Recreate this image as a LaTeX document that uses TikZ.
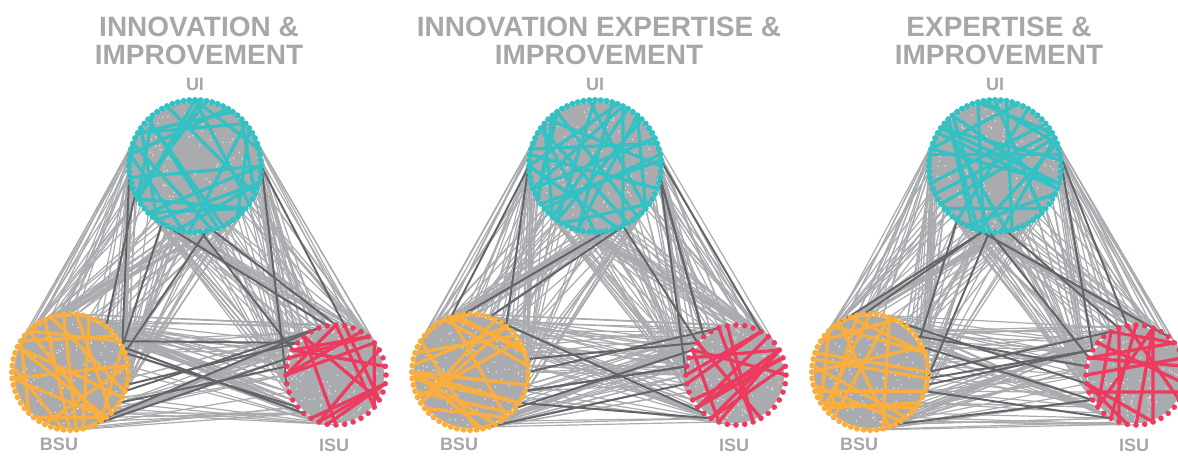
\documentclass[tikz,border=0pt]{standalone}
\usepackage{fontspec}
\setmainfont{Liberation Sans}
\usetikzlibrary{calc}
\definecolor{uiteal}{HTML}{33C1C4}
\definecolor{bsuorange}{HTML}{FAAE3E}
\definecolor{isured}{HTML}{EE3A5E}
\definecolor{linkgray}{HTML}{A9ABAE}
\definecolor{linkdark}{HTML}{636467}
\definecolor{labelgray}{HTML}{A5A7AA}
\tikzset{
  heading/.style = {font=\fontsize{19.9}{19.9}\selectfont\bfseries, text=labelgray,
                    align=center, inner sep=0pt},
  campus/.style  = {font=\fontsize{12.8}{12.8}\selectfont\bfseries, text=labelgray,
                    inner sep=0pt, anchor=base},
  tie/.style     = {draw=linkgray, line width=0.85pt},
  tiedark/.style = {draw=linkdark, line width=1.4pt},
  chord/.style   = {draw=#1, line width=2.3pt, line cap=round},
}

% members sit evenly on a ring round the hub: #1 hub, #2 count, #3 radius
\newcommand{\placering}[3]{%
  \foreach \i in {1,...,#2} \coordinate (#1-\i) at ($(#1)+({\i/#2*360}:#3)$);}

% links between two rings, facing each other
% #1 style, #2 how many, #3/#4/#5 hub, count, facing angle, #6/#7/#8 the same, #9 spread
\newcommand{\ties}[9]{%
  \foreach \k in {1,...,#2}{%
    \pgfmathtruncatemacro{\a}{mod((#5+#9*(2*rnd-1))/360*#4+2*#4,#4)+1}%
    \pgfmathtruncatemacro{\b}{mod((#8+#9*(2*rnd-1))/360*#7+2*#7,#7)+1}%
    \draw[#1] (#3-\a) -- (#6-\b);
  }}

% links inside one ring: #1 hub, #2 count, #3 colour, #4 how many
\newcommand{\chords}[4]{%
  \foreach \k in {1,...,#4}{%
    \pgfmathtruncatemacro{\a}{random(1,#2)}%
    \pgfmathtruncatemacro{\b}{mod(\a+#2*(0.2+0.6*rnd),#2)+1}%
    \draw[chord=#3] (#1-\a) -- (#1-\b);
  }}

% light flecks in the dense middle of a ring: #1 hub, #2 radius
\newcommand{\flecks}[2]{%
  \foreach \k in {1,...,110}
    \fill[white, opacity=.75] ($(#1)+({360*rnd}:{(#2-5)*sqrt(rnd)})$) circle (0.8);}

\begin{document}
\begin{tikzpicture}[x=0.025cm, y=-0.025cm]
  \clip (0,0) rectangle (1178,455);
  \pgfmathsetseed{2718}

  \foreach \p/\xo/\ttl in {1/0/{INNOVATION \&\\IMPROVEMENT},
                           2/400/{INNOVATION EXPERTISE \&\\IMPROVEMENT},
                           3/800/{EXPERTISE \&\\IMPROVEMENT}}{
    % hubs
    \coordinate (ui\p) at (195+\xo,166);
    \coordinate (bsu\p) at (70+\xo,372);
    \coordinate (isu\p) at (336+\xo,375);
    \placering{ui\p}{72}{66}
    \placering{bsu\p}{56}{58}
    \placering{isu\p}{36}{50}

    \fill[linkgray] (ui\p) circle (64);
    \fill[linkgray] (bsu\p) circle (56);
    \fill[linkgray] (isu\p) circle (48);

    % links between campuses
    \ties{tie}{95}{ui\p}{72}{121}{bsu\p}{56}{301}{95}
    \ties{tie}{95}{ui\p}{72}{56}{isu\p}{36}{236}{95}
    \ties{tie}{80}{bsu\p}{56}{0}{isu\p}{36}{180}{95}
    \flecks{ui\p}{66}
    \flecks{bsu\p}{58}
    \flecks{isu\p}{50}
    \ties{tiedark}{4}{ui\p}{72}{121}{bsu\p}{56}{301}{70}
    \ties{tiedark}{5}{ui\p}{72}{56}{isu\p}{36}{236}{70}
    \ties{tiedark}{8}{bsu\p}{56}{0}{isu\p}{36}{180}{70}

    % links within a campus
    \chords{ui\p}{72}{uiteal}{24}
    \chords{bsu\p}{56}{bsuorange}{17}
    \chords{isu\p}{36}{isured}{15}

    \foreach \i in {1,...,72} \fill[uiteal] (ui\p-\i) circle (3.1);
    \foreach \i in {1,...,56} \fill[bsuorange] (bsu\p-\i) circle (3.1);
    \foreach \i in {1,...,36} \fill[isured] (isu\p-\i) circle (2.8);

    % labels
    \node[heading, anchor=north] (title\p) at (199+\xo,16.5) {\ttl};
    \node[campus] (uiname\p) at (195+\xo,90) {UI};
    \node[campus] (bsuname\p) at (59+\xo,450) {BSU};
    \node[campus] (isuname\p) at (334+\xo,451) {ISU};
  }
\end{tikzpicture}
\end{document}
